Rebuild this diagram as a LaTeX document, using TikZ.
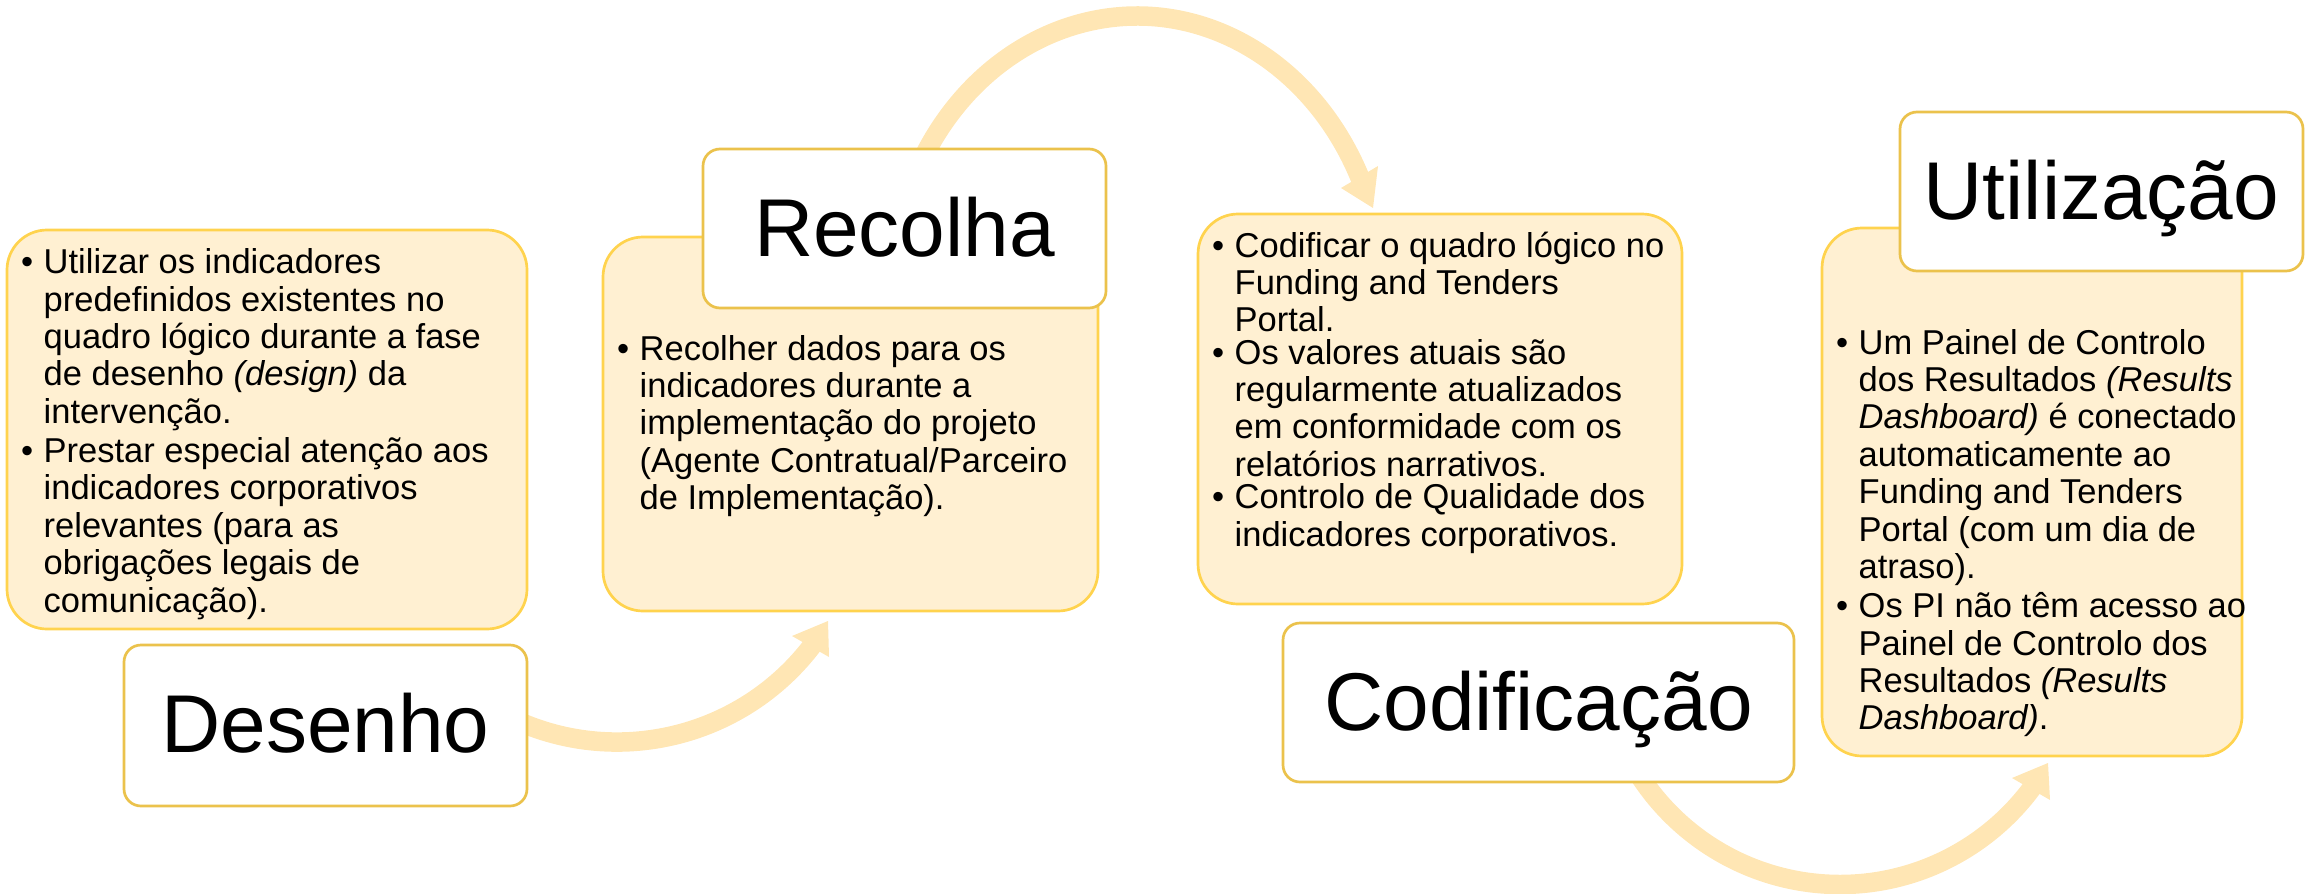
\documentclass[tikz,border=0pt]{standalone}
\usepackage{fontspec}
\setmainfont{Liberation Sans}
\definecolor{cfill}{HTML}{FFF0D2}
\definecolor{cborder}{HTML}{FFD34E}
\definecolor{tborder}{HTML}{EBC24C}
\definecolor{arrowc}{HTML}{FFE6B4}
\newcommand{\bitem}[1]{\par\noindent\makebox[22.5pt][l]{\textbullet}\parbox[t]{480pt}{#1}}
\newcommand{\bset}[1]{\begin{minipage}[t]{510pt}\setlength{\parskip}{6pt}#1\end{minipage}}
\begin{document}
\begin{tikzpicture}[x=1pt,y=-1pt,
  cbox/.style={draw=cborder, fill=cfill, line width=2.7pt, rounded corners=40pt, inner sep=0pt, outer sep=0pt, anchor=north west},
  tbox/.style={draw=tborder, fill=white, line width=2.7pt, rounded corners=17pt, inner sep=0pt, outer sep=0pt, anchor=north west},
  ttext/.style={anchor=base, inner sep=0pt, font=\fontsize{82pt}{90pt}\selectfont},
  btext/.style={anchor=base west, inner sep=0pt, font=\fontsize{34.5pt}{37.4pt}\selectfont},
  flow/.style={draw=arrowc, line width=19.5pt},
  head/.style={fill=arrowc}]
\useasboundingbox (0,0) rectangle (2310,894);

% arrows (behind boxes)
\coordinate (a1s) at (501.7,713.3);
\coordinate (h1a) at (792,636);
\coordinate (h1t) at (828,621);
\coordinate (h1b) at (829,657);
\draw[flow] (a1s) arc[start angle=118, end angle=36.5, radius=245.6];
\fill[head] (h1a) -- (h1t) -- (h1b) -- cycle;

\coordinate (a2s) at (915.9,173.3);
\coordinate (h2a) at (1341,188);
\coordinate (h2t) at (1373,208);
\coordinate (h2b) at (1378,166);
\draw[flow] (a2s) arc[start angle=206, end angle=336.5, x radius=246, y radius=280];
\fill[head] (h2a) -- (h2t) -- (h2b) -- cycle;

\coordinate (a3s) at (1633,765);
\coordinate (h3a) at (2012,778);
\coordinate (h3t) at (2048,763);
\coordinate (h3b) at (2050,800);
\draw[flow] (a3s) arc[start angle=150, end angle=35.5, radius=239];
\fill[head] (h3a) -- (h3t) -- (h3b) -- cycle;

% content boxes
\node[cbox, minimum width=520pt, minimum height=399pt] (c1) at (7,230) {};
\node[cbox, minimum width=495pt, minimum height=374pt] (c2) at (603,237) {};
\node[cbox, minimum width=484pt, minimum height=390pt] (c3) at (1198,214) {};
\node[cbox, minimum width=420pt, minimum height=528pt] (c4) at (1822,228) {};

% title boxes
\node[tbox, minimum width=403pt, minimum height=161pt] (t1) at (124,645) {};
\node[tbox, minimum width=403pt, minimum height=159pt] (t2) at (703,149) {};
\node[tbox, minimum width=511pt, minimum height=159pt] (t3) at (1283,623) {};
\node[tbox, minimum width=403pt, minimum height=159pt] (t4) at (1900,112) {};

\node[ttext] (t1l) at (325.5,752) {Desenho};
\node[ttext] (t2l) at (904.5,256) {Recolha};
\node[ttext] (t3l) at (1538.5,730) {Codificação};
\node[ttext] (t4l) at (2101.5,219) {Utilização};

% content texts
\node[btext] (c1l) at (21,273.6) {\bset{%
\bitem{Utilizar os indicadores\\predefinidos existentes no\\quadro lógico durante a fase\\de desenho \textit{(design)} da\\intervenção.}
\bitem{Prestar especial atenção aos\\indicadores corporativos\\relevantes (para as\\obrigações legais de\\comunicação).}}};

\node[btext] (c2l) at (617,360) {\bset{%
\bitem{Recolher dados para os\\indicadores durante a\\implementação do projeto\\(Agente Contratual/Parceiro\\de Implementação).}}};

\node[btext] (c3l) at (1212,257) {\bset{%
\bitem{Codificar o quadro lógico no\\Funding and Tenders\\Portal.}
\bitem{Os valores atuais são\\regularmente atualizados\\em conformidade com os\\relatórios narrativos.}
\bitem{Controlo de Qualidade dos\\indicadores corporativos.}}};

\node[btext] (c4l) at (1836,354) {\bset{%
\bitem{Um Painel de Controlo\\dos Resultados \textit{(Results}\\\textit{Dashboard)} é conectado\\automaticamente ao\\Funding and Tenders\\Portal (com um dia de\\atraso).}
\bitem{Os PI não têm acesso ao\\Painel de Controlo dos\\Resultados \textit{(Results}\\\textit{Dashboard)}.}}};
\end{tikzpicture}
\end{document}
